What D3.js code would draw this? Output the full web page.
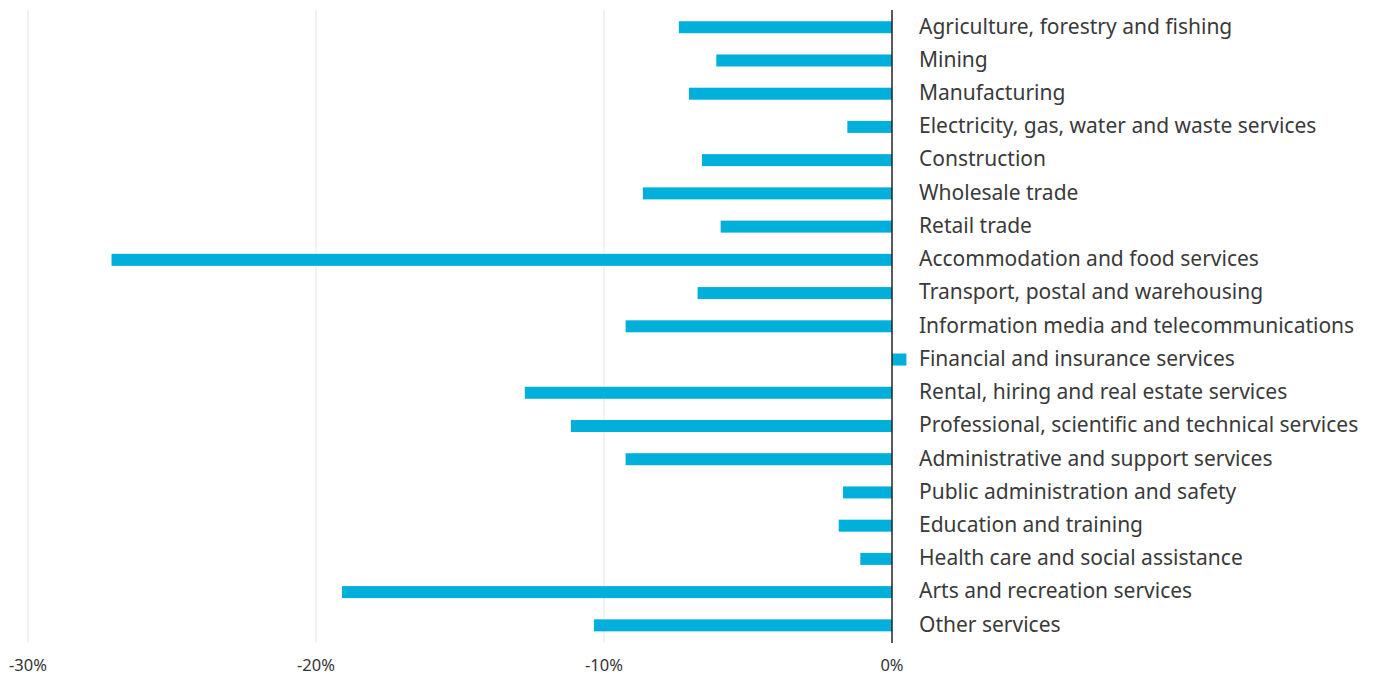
<!DOCTYPE html>
<html>
<head>
<meta charset="utf-8">
<script src="https://cdn.jsdelivr.net/npm/d3@7"></script>
<style>
  body { margin: 0; background: #fff; }
  svg { display: block; font-family: "Noto Sans", "Open Sans", sans-serif; }
  .cat-label { fill: #3a3a3a; font-size: 21px; }
  .tick-label { fill: #333; font-size: 16.5px; }
</style>
</head>
<body>
<div id="chart"></div>
<script>
const categories = [
    "Agriculture, forestry and fishing",
    "Mining",
    "Manufacturing",
    "Electricity, gas, water and waste services",
    "Construction",
    "Wholesale trade",
    "Retail trade",
    "Accommodation and food services",
    "Transport, postal and warehousing",
    "Information media and telecommunications",
    "Financial and insurance services",
    "Rental, hiring and real estate services",
    "Professional, scientific and technical services",
    "Administrative and support services",
    "Public administration and safety",
    "Education and training",
    "Health care and social assistance",
    "Arts and recreation services",
    "Other services"
];
const changes = [-7.4, -6.1, -7.05, -1.55, -6.6, -8.65, -5.95, -27.1, -6.75, -9.25, 0.5, -12.75, -11.15, -9.25, -1.7, -1.85, -1.1, -19.1, -10.35];
const tickValues = [-30, -20, -10, 0];

const width = 1375, height = 677;
const barHeight = 12;

const svg = d3.select("#chart").append("svg")
    .attr("width", width)
    .attr("height", height);

const x = d3.scaleLinear()
    .domain([-30, 0])
    .range([28, 892]);

const y = d3.scaleBand()
    .domain(categories)
    .range([0, 652.6])
    .padding(0.64);

// gridlines
svg.selectAll("gridLine")
    .data(tickValues.filter(t => t !== 0))
    .enter()
    .append("line")
    .attr("x1", d => x(d))
    .attr("x2", d => x(d))
    .attr("y1", 10)
    .attr("y2", 643)
    .attr("stroke", "#e6e6e6")
    .attr("stroke-width", 1);

const data = categories.map((c, i) => ({key: c, value: changes[i]}));

svg.selectAll("bar")
    .data(data)
    .enter()
    .append("rect")
    .attr("x", d => x(Math.min(0, d.value)))
    .attr("width", d => Math.abs(x(d.value) - x(0)))
    .attr("y", d => y(d.key) + y.bandwidth() / 2 - barHeight / 2)
    .attr("height", barHeight)
    .attr("fill", "#00afda");

// zero line
svg.append("line")
    .attr("x1", x(0))
    .attr("x2", x(0))
    .attr("y1", 10)
    .attr("y2", 643)
    .attr("stroke", "#222")
    .attr("stroke-width", 1.5);

svg.selectAll("catLabel")
    .data(data)
    .enter()
    .append("text")
    .attr("class", "cat-label")
    .attr("x", 919)
    .attr("y", d => y(d.key) + y.bandwidth() / 2)
    .attr("dy", "0.3em")
    .text(d => d.key);

svg.selectAll("tickLabel")
    .data(tickValues)
    .enter()
    .append("text")
    .attr("class", "tick-label")
    .attr("x", d => x(d))
    .attr("y", 671)
    .attr("text-anchor", "middle")
    .text(d => `${d}%`);
</script>
</body>
</html>
